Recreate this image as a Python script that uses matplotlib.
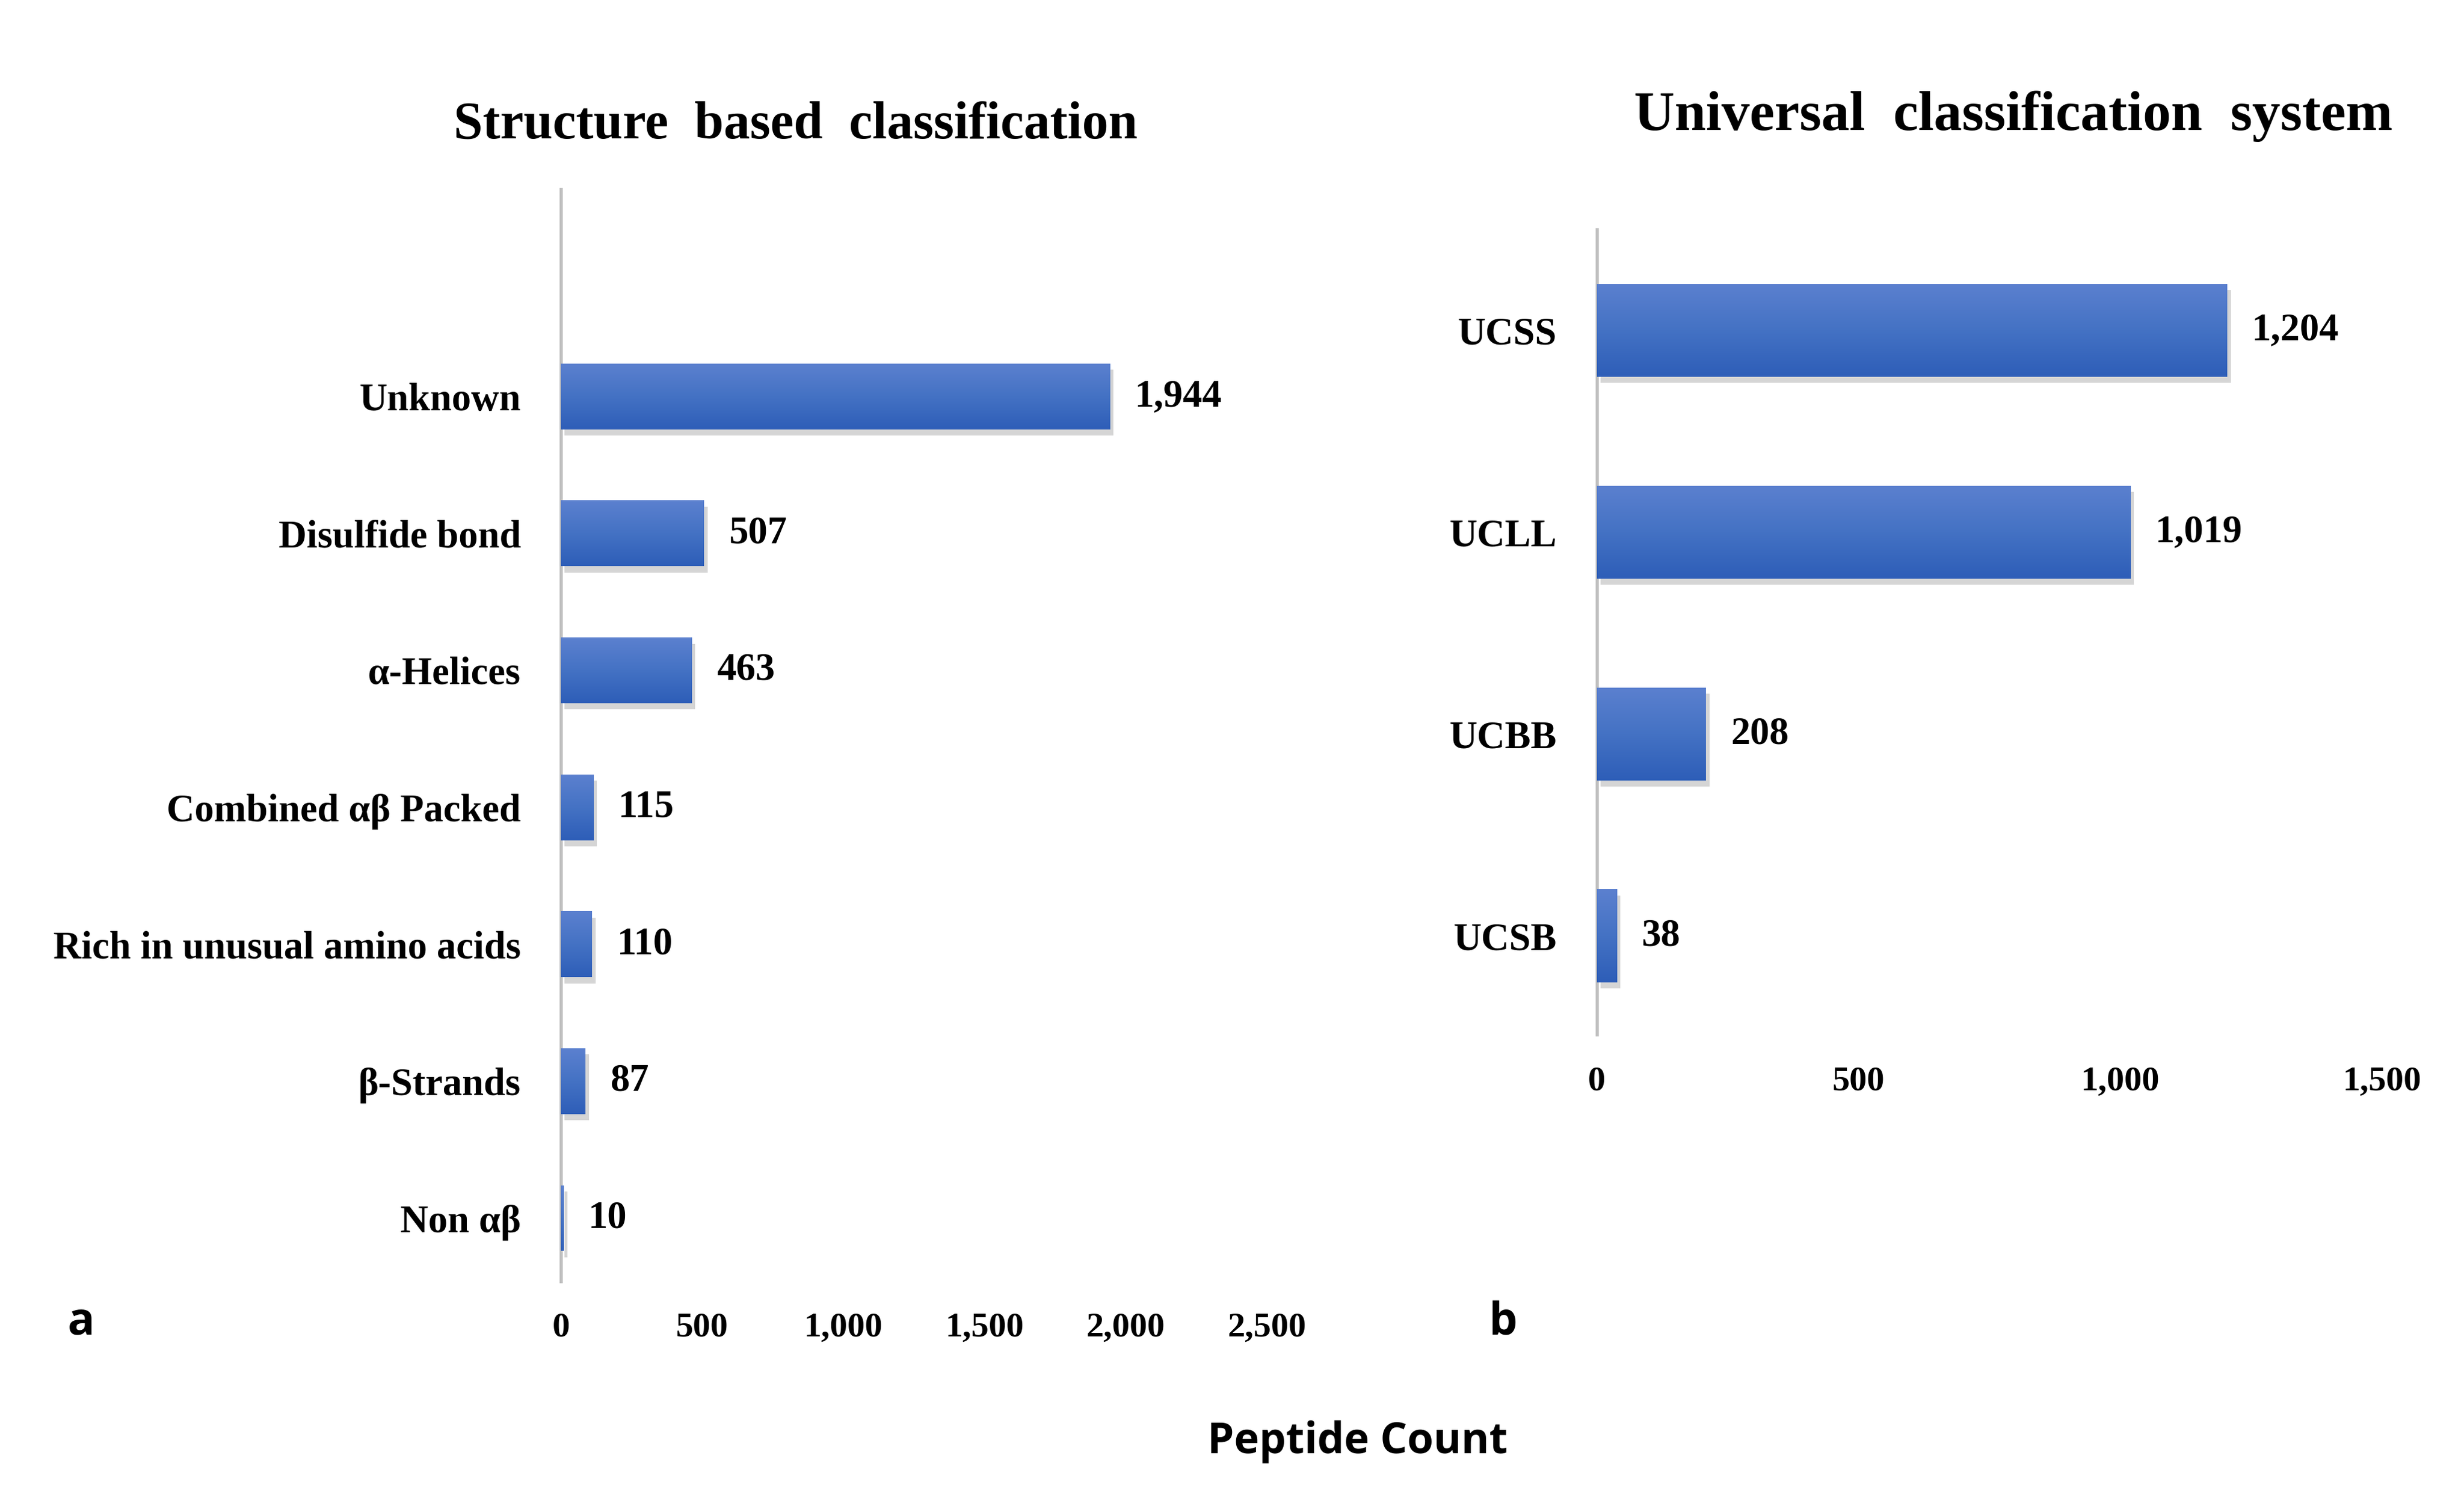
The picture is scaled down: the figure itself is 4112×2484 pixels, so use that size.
import matplotlib
matplotlib.use("Agg")
import matplotlib.pyplot as plt
import matplotlib.patheffects as pe
from matplotlib.colors import LinearSegmentedColormap
import numpy as np

# data
struct_labels = ["Unknown", "Disulfide bond", "\u03b1-Helices", "Combined \u03b1\u03b2 Packed",
                 "Rich in unusual amino acids", "\u03b2-Strands", "Non \u03b1\u03b2"]
struct_counts = [1944, 507, 463, 115, 110, 87, 10]
struct_ticks = [0, 500, 1000, 1500, 2000, 2500]

ucs_labels = ["UCSS", "UCLL", "UCBB", "UCSB"]
ucs_counts = [1204, 1019, 208, 38]
ucs_ticks = [0, 500, 1000, 1500]

SERIF = ["Liberation Serif", "DejaVu Serif"]
SANS = ["Open Sans", "DejaVu Sans"]
grad = LinearSegmentedColormap.from_list("g", ["#5b80cf", "#4472c4", "#2e5eb8"])


def draw_panel(ax, labels, counts, ticks, ylim, height):
    y = np.arange(len(labels))
    bars = ax.barh(y, counts, height=height, color="#4472c4", zorder=2)
    for b in bars:
        b.set_path_effects([pe.SimplePatchShadow(offset=(1.5, -2.5), shadow_rgbFace="#777777", alpha=0.3),
                            pe.Normal()])
        x0, y0 = b.get_x(), b.get_y()
        w, h = b.get_width(), b.get_height()
        im = ax.imshow(np.linspace(0, 1, 64).reshape(-1, 1), cmap=grad, aspect="auto",
                       extent=(x0, x0 + w, y0 + h, y0), zorder=3, interpolation="bilinear")
        im.set_clip_path(b)
    for yi, v in zip(y, counts):
        ax.annotate(f"{v:,}", (v, yi), xytext=(10, 0), textcoords="offset points",
                    va="center", ha="left", fontsize=15.5, fontweight="bold", family=SERIF)
    ax.set_xlim(ticks[0], ticks[-1])
    ax.set_ylim(*ylim)
    ax.set_yticks(y)
    ax.set_yticklabels(labels, fontsize=15.5, fontweight="bold", family=SERIF)
    ax.set_xticks(ticks)
    ax.set_xticklabels([f"{t:,}" for t in ticks], fontsize=14, fontweight="bold", family=SERIF)
    ax.tick_params(axis="both", length=0)
    ax.tick_params(axis="y", pad=16)
    ax.tick_params(axis="x", pad=12.5)
    for s in ["top", "right", "bottom"]:
        ax.spines[s].set_visible(False)
    ax.spines["left"].set_color("#bfbfbf")
    ax.spines["left"].set_linewidth(1.3)


W, H = 4112, 2484
fig = plt.figure(figsize=(W / 300, H / 300), dpi=300)

ax1 = fig.add_axes([0.2276, 0.139, 0.2865, 0.7336])
draw_panel(ax1, struct_labels, struct_counts, struct_ticks, (6.46, -1.51), 0.48)

ax2 = fig.add_axes([0.648, 0.3047, 0.3187, 0.5413])
draw_panel(ax2, ucs_labels, ucs_counts, ucs_ticks, (3.49, -0.5), 0.46)

fig.text(0.323, 0.916, "Structure  based  classification", ha="center", va="center",
         fontsize=21, fontweight="bold", family=SERIF)
fig.text(0.817, 0.922, "Universal  classification  system", ha="center", va="center",
         fontsize=22.5, fontweight="bold", family=SERIF)
fig.text(0.033, 0.111, "a", ha="center", va="center", fontsize=18, fontweight="bold", family=SANS)
fig.text(0.610, 0.111, "b", ha="center", va="center", fontsize=18, fontweight="bold", family=SANS)
fig.text(0.551, 0.031, "Peptide Count", ha="center", va="center", fontsize=17,
         fontweight="bold", family=SANS)

fig.savefig("out.png", dpi=300, facecolor="white")
